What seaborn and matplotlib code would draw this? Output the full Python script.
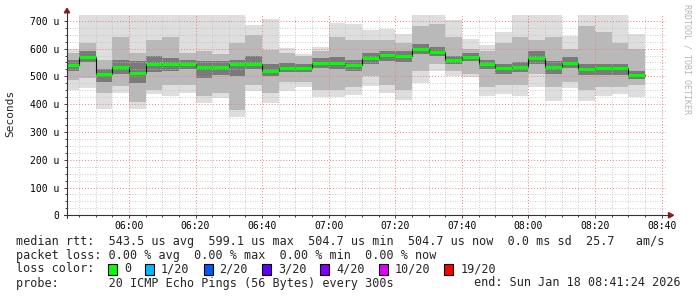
import numpy as np
import pandas as pd
import matplotlib
matplotlib.use("Agg")
import matplotlib.pyplot as plt
import matplotlib.dates as mdates
import seaborn as sns
from matplotlib.lines import Line2D
from matplotlib.patches import Rectangle, Polygon
from matplotlib.ticker import MultipleLocator, FuncFormatter

# ---------------- data (microseconds), one value per 5-minute column ----------------
col_start = "2026-01-18 05:40:00"
n_cols = 35
median_rtt = [542, 568, 508, 535, 513, 545, 543, 545, 535, 535, 545, 545, 519, 530, 530,
              549, 549, 542, 565, 577, 575, 599.1, 587, 559, 571, 545, 529, 535, 565, 533,
              549, 525, 529, 529, 504.7]
rtt_max = [598, 725, 725, 725, 725, 725, 725, 725, 725, 725, 725, 685, 706, 601, 582,
           607, 693, 688, 667, 669, 652, 725, 725, 703, 635, 613, 661, 725, 725, 725,
           645, 725, 725, 725, 652]
rtt_min = [452, 458, 383, 441, 381, 435, 430, 439, 405, 421, 355, 449, 405, 449, 460,
           427, 426, 433, 465, 440, 415, 475, 520, 500, 499, 428, 436, 430, 462, 413,
           457, 413, 429, 436, 427]
mid_hi = [583, 619, 559, 643, 583, 631, 640, 583, 590, 580, 619, 650, 595, 585, 575,
          590, 640, 630, 630, 630, 620, 680, 690, 640, 600, 590, 620, 640, 630, 640,
          600, 680, 660, 620, 600]
mid_lo = [487, 493, 439, 465, 409, 451, 470, 470, 430, 440, 380, 470, 440, 480, 480,
          450, 450, 460, 500, 470, 450, 520, 545, 520, 510, 460, 470, 470, 510, 460,
          480, 450, 460, 460, 470]
core_hi = [560, 590, 525, 560, 555, 575, 565, 560, 555, 555, 560, 575, 545, 548, 545,
           565, 570, 560, 585, 590, 590, 615, 605, 575, 585, 560, 545, 550, 590, 555,
           570, 545, 545, 545, 520]
core_lo = [520, 550, 480, 510, 475, 515, 520, 525, 495, 505, 500, 525, 500, 515, 515,
           530, 525, 520, 545, 555, 550, 580, 575, 545, 555, 525, 510, 515, 545, 510,
           530, 505, 505, 505, 490]

loss_labels = ["0", "1/20", "2/20", "3/20", "4/20", "10/20", "19/20"]
loss_colors = ["#00ff00", "#00b8ff", "#0059ff", "#5e00ff", "#7e00ff", "#dd00ff", "#ff0000"]

stat_line1 = "median rtt:  543.5 us avg  599.1 us max  504.7 us min  504.7 us now  0.0 ms sd  25.7   am/s"
stat_line2 = "packet loss: 0.00 % avg  0.00 % max  0.00 % min  0.00 % now"
probe_line = "probe:       20 ICMP Echo Pings (56 Bytes) every 300s"
end_line = "end: Sun Jan 18 08:41:24 2026"

view_start = "2026-01-18 05:41:24"
view_end = "2026-01-18 08:41:24"

# ---------------- figure ----------------
sns.set_theme(style="white")
plt.rcParams['font.family'] = ['DejaVu Sans Mono', 'DejaVu Sans']

W, H = 697, 297
fig = plt.figure(figsize=(W / 100, H / 100), dpi=100)
fig.patch.set_facecolor("white")
L, R, B, T = 67, 666.3, 215.3, 14.7
ax = fig.add_axes([L / W, 1 - B / H, (R - L) / W, (B - T) / H])
ax.set_facecolor("white")

times = pd.date_range(col_start, periods=n_cols, freq="5min")
xnum = mdates.date2num(times.to_pydatetime())
width = 5 / 1440.0

df = pd.DataFrame({"t": xnum, "median": median_rtt, "max": rtt_max, "min": rtt_min,
                   "mid_lo": mid_lo, "mid_hi": mid_hi, "core_lo": core_lo, "core_hi": core_hi})

for lo, hi, c in [("min", "max", "#dedede"), ("mid_lo", "mid_hi", "#b9b9b9"),
                  ("core_lo", "core_hi", "#7a7a7a")]:
    ax.bar(df["t"], df[hi] - df[lo], bottom=df[lo], width=width, align="edge",
           color=c, linewidth=0, zorder=1)

# black step connecting medians
step_x = list(df["t"]) + [df["t"].iloc[-1] + width]
step_y = list(df["median"]) + [df["median"].iloc[-1]]
sns.lineplot(x=step_x, y=step_y, drawstyle="steps-post", color="#111111", lw=0.8,
             ax=ax, estimator=None, legend=False, zorder=4)
ax.hlines(df["median"], df["t"], df["t"] + width, colors="#00ff00", lw=2.2, zorder=5)

x0 = mdates.date2num(pd.Timestamp(view_start).to_pydatetime())
x1 = mdates.date2num(pd.Timestamp(view_end).to_pydatetime())
ax.set_xlim(x0, x1)
ax.set_ylim(0, 722)

ax.xaxis.set_major_locator(mdates.MinuteLocator(byminute=[0, 20, 40]))
ax.xaxis.set_minor_locator(mdates.MinuteLocator(byminute=range(0, 60, 5)))
ax.xaxis.set_major_formatter(mdates.DateFormatter("%H:%M"))
ax.yaxis.set_major_locator(MultipleLocator(100))
ax.yaxis.set_minor_locator(MultipleLocator(25))
ax.yaxis.set_major_formatter(FuncFormatter(lambda v, p: "0" if v == 0 else f"{int(v)} u"))

ax.set_axisbelow(False)
ax.grid(True, which="major", color="#e88080", linestyle=(0, (1, 2)), linewidth=0.7)
ax.grid(True, which="minor", color="#bcbcbc", linestyle=(0, (1, 2)), linewidth=0.6)

for s in ax.spines.values():
    s.set_visible(False)
ax.tick_params(axis="both", which="both", bottom=True, left=True, direction="out",
               color="#444444", width=0.7, labelsize=7, labelcolor="black")
ax.tick_params(axis="x", which="major", length=2.2, pad=2.0)
ax.tick_params(axis="x", which="minor", length=1.6)
ax.tick_params(axis="y", which="major", length=2.0, pad=3.6)
ax.tick_params(axis="y", which="minor", length=1.5)
ax.set_xlabel("")
ax.set_ylabel("")


def fx(x):
    return x / W


def fy(y):
    return 1 - y / H


# axis lines and arrows
fig.add_artist(Line2D([fx(67), fx(67)], [fy(218), fy(12)], color="#333333", lw=0.8))
fig.add_artist(Line2D([fx(64), fx(669)], [fy(215.3), fy(215.3)], color="#333333", lw=0.8))
arrow_c = "#8b1a1a"
fig.add_artist(Polygon([[fx(64.3), fy(12.8)], [fx(69.7), fy(12.8)], [fx(67), fy(8.3)]],
                       closed=True, transform=fig.transFigure, color=arrow_c))
fig.add_artist(Polygon([[fx(668.5), fy(212.6)], [fx(668.5), fy(218)], [fx(673.5), fy(215.3)]],
                       closed=True, transform=fig.transFigure, color=arrow_c))

# labels
fig.text(fx(10.5), fy(113.7), "Seconds", rotation=90, ha="center", va="center", fontsize=8)
fig.text(fx(686.5), fy(59), "RRDTOOL / TOBI OETIKER", rotation=-90, ha="center",
         va="center", fontsize=6, color="#b4b4b4")

fs = 8.5
fig.text(fx(16), fy(241), stat_line1, fontsize=fs, ha="left", va="center")
fig.text(fx(16), fy(255), stat_line2, fontsize=fs, ha="left", va="center")
fig.text(fx(16), fy(269), "loss color:", fontsize=fs, ha="left", va="center")
fig.text(fx(16), fy(283), probe_line, fontsize=fs, ha="left", va="center")
fig.text(fx(681), fy(283), end_line, fontsize=fs, ha="right", va="center")

cw = 7.1
xpos = 108
for lab, col in zip(loss_labels, loss_colors):
    fig.add_artist(Rectangle((fx(xpos), fy(274.5)), 9 / W, 11 / H, transform=fig.transFigure,
                             facecolor=col, edgecolor="black", lw=0.8))
    fig.text(fx(xpos + 16), fy(269), lab, fontsize=fs, ha="left", va="center")
    xpos = xpos + 16 + len(lab) * cw + 14

fig.savefig("out.png", dpi=100, facecolor="white")
